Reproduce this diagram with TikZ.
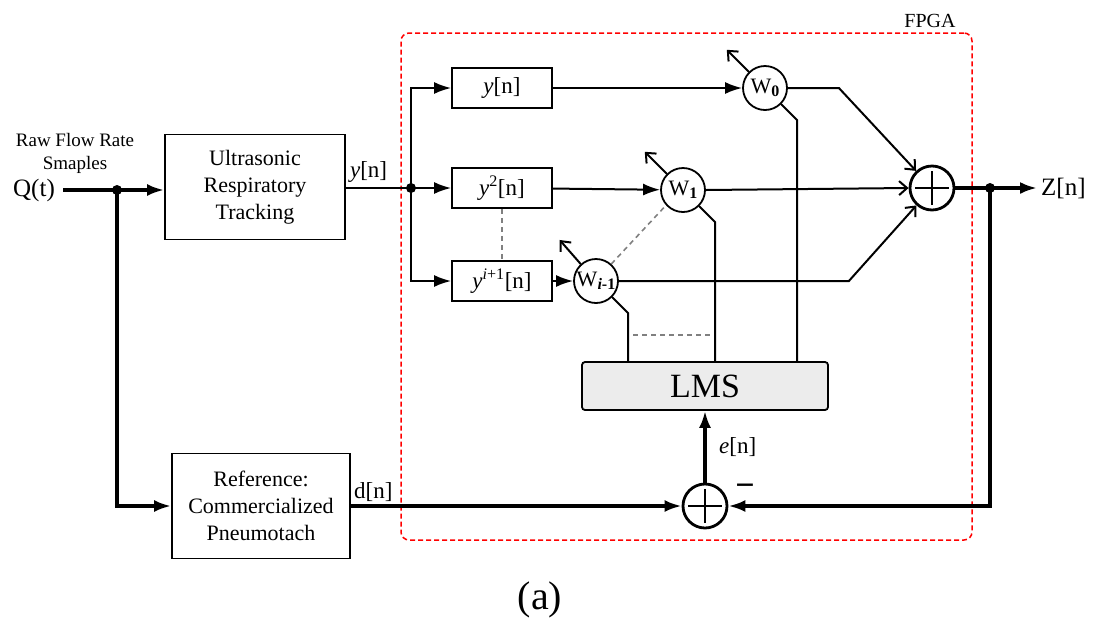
\documentclass[tikz,border=0pt]{standalone}
\usepackage{fontspec}
\setmainfont{Liberation Serif}
\usetikzlibrary{positioning,arrows.meta,calc}

\newcommand{\wsub}[1]{W\raisebox{-3pt}{\fontsize{16}{16}\selectfont\bfseries #1}}

\tikzset{
  block/.style={draw, line width=1.8pt, inner sep=0pt, align=center,
    font=\fontsize{22}{27}\selectfont},
  tapbox/.style={block, minimum width=100pt, minimum height=40pt,
    font=\fontsize{23}{23}\selectfont},
  weight/.style={draw, circle, line width=1.8pt, inner sep=0pt, minimum size=44pt,
    font=\fontsize{22}{22}\selectfont},
  sumnode/.style={draw, circle, line width=2.8pt, inner sep=0pt, minimum size=44pt,
    path picture={
      \draw[line width=2.8pt] ([xshift=-17pt]path picture bounding box.center)
        -- ([xshift=17pt]path picture bounding box.center);
      \draw[line width=2.8pt] ([yshift=-17pt]path picture bounding box.center)
        -- ([yshift=17pt]path picture bounding box.center);}},
  dot/.style={circle, fill, inner sep=0pt, minimum size=10pt},
  lbl/.style={font=\fontsize{23}{26}\selectfont, inner sep=1pt},
  sig/.style={line width=2pt},
  bigsig/.style={line width=3.2pt},
  sumin/.style={line width=2pt, -{Straight Barb[length=8pt,width=14pt]}},
  adapt/.style={line width=2pt, -{Straight Barb[length=8pt,width=14pt]}},
  tapdash/.style={gray, line width=1.6pt, dash pattern=on 5pt off 4pt},
}

\begin{document}
\begin{tikzpicture}[x=1pt, y=-1pt, >={Latex[length=17pt,width=12pt]}]
\useasboundingbox (0,0) rectangle (1093,625);

% FPGA region
\node[draw=red, line width=1.5pt, rounded corners=8pt, dash pattern=on 5pt off 3pt,
  minimum width=571pt, minimum height=507pt, inner sep=0pt] (fpga) at (686.5,286.5) {};
\node[lbl, anchor=south east, font=\fontsize{20}{22}\selectfont]
  at ([xshift=-16pt,yshift=3pt]fpga.north east) {FPGA};

% input side
\node[font=\fontsize{19}{23}\selectfont, align=center] (rawlbl) at (75,153) {Raw Flow Rate\\Smaples};
\node[lbl, font=\fontsize{25}{25}\selectfont] (qlbl) at (34,190) {Q(t)};
\coordinate (qin) at (63,190);
\node[dot] (split) at (117,190) {};
\node[block, minimum width=180pt, minimum height=105pt] (ust) at (255,187)
  {Ultrasonic\\Respiratory\\Tracking};
\node[block, minimum width=178pt, minimum height=105pt] (ref) at (261,506)
  {Reference:\\Commercialized\\Pneumotach};
\node[dot] (ydot) at (411,188) {};

% taps
\node[tapbox] (tap0) at (502,88) {\textit{y}[n]};
\node[tapbox] (tap1) at (502,188) {\textit{y}\textsuperscript{2}[n]};
\node[tapbox] (tap2) at (502,281) {\textit{y}\textsuperscript{\textit{i}+1}[n]};

% weights
\node[weight] (w0) at (765,88) {\wsub{0}};
\node[weight] (w1) at (683,190) {\wsub{1}};
\node[weight] (w2) at (596,281) {W\raisebox{-3pt}{\fontsize{16}{16}\selectfont\bfseries\itshape i\upshape -1}};

% adders, LMS
\node[sumnode] (sumz) at (932,188) {};
\node[sumnode] (sume) at (705,506) {};
\node[draw, line width=1.8pt, fill=gray!15, rounded corners=3pt, minimum width=246pt,
  minimum height=48pt, font=\fontsize{34}{34}\selectfont] (lms) at (705,386) {LMS};
\node[dot] (zdot) at (990,188) {};
\coordinate (zout) at (1037,188);

% labels
\node[lbl, anchor=south west] at ([xshift=3pt,yshift=3pt]ust.east) {\textit{y}[n]};
\node[lbl, anchor=south west] at ([xshift=2pt,yshift=3pt]ref.east) {d[n]};
\node[lbl, anchor=west, font=\fontsize{25}{25}\selectfont] at ([xshift=3pt]zout) {Z[n]};
\node[lbl, anchor=west] at (718,447) {\textit{e}[n]};
\node[font=\fontsize{34}{34}\selectfont\bfseries] at (745,490) {−};
\node[font=\fontsize{40}{40}\selectfont] at (540,600) {(a)};

% signal paths
\draw[bigsig, ->] (qin) -- (qin -| ust.west);
\draw[bigsig, ->] (split.center) |- (ref.west);
\draw[sig] (ust.east |- ydot) -- (ydot.center);
\draw[sig, ->] (ydot.center) |- (tap0.west);
\draw[sig, ->] (ydot.center) -- (tap1.west);
\draw[sig, ->] (ydot.center) |- (tap2.west);
\draw[sig, ->] (tap0) -- (w0);
\draw[sig, ->] (tap1) -- (w1);
\draw[sig, ->] (tap2) -- (w2);
\draw[tapdash] (tap1.south) -- (tap2.north);
\draw[tapdash] (w2.48) -- (w1.-138);

% weight adaptation
\draw[adapt] (w0.135) -- ++(-22,-22);
\draw[adapt] (w1.135) -- ++(-22,-22);
\draw[adapt] (w2.132) -- ++(-21,-24);
\draw[sig] (w0.-45) -- ++(16,16) coordinate (c0) -- (c0 |- lms.north);
\draw[sig] (w1.-45) -- ++(16,16) coordinate (c1) -- (c1 |- lms.north);
\draw[sig] (w2.-45) -- ++(16,16) coordinate (c2) -- (c2 |- lms.north);
\draw[tapdash] ($(c2)+(5,22)$) -- ($(c2 -| c1)+(-5,22)$);

% output sum
\draw[sumin] (w0.east) -- ++(51,0) -- (sumz);
\draw[sumin] (w1.east) -- (sumz.west);
\draw[sumin] (w2.east) -- ++(230,0) -- (sumz);
\draw[bigsig, ->] (sumz.east) -- (zout);
\draw[bigsig, ->] (zdot.center) |- (sume.east);
\draw[bigsig, ->] (ref.east) -- (sume.west);
\draw[bigsig, ->] (sume.north) -- (lms.south);
\end{tikzpicture}
\end{document}
